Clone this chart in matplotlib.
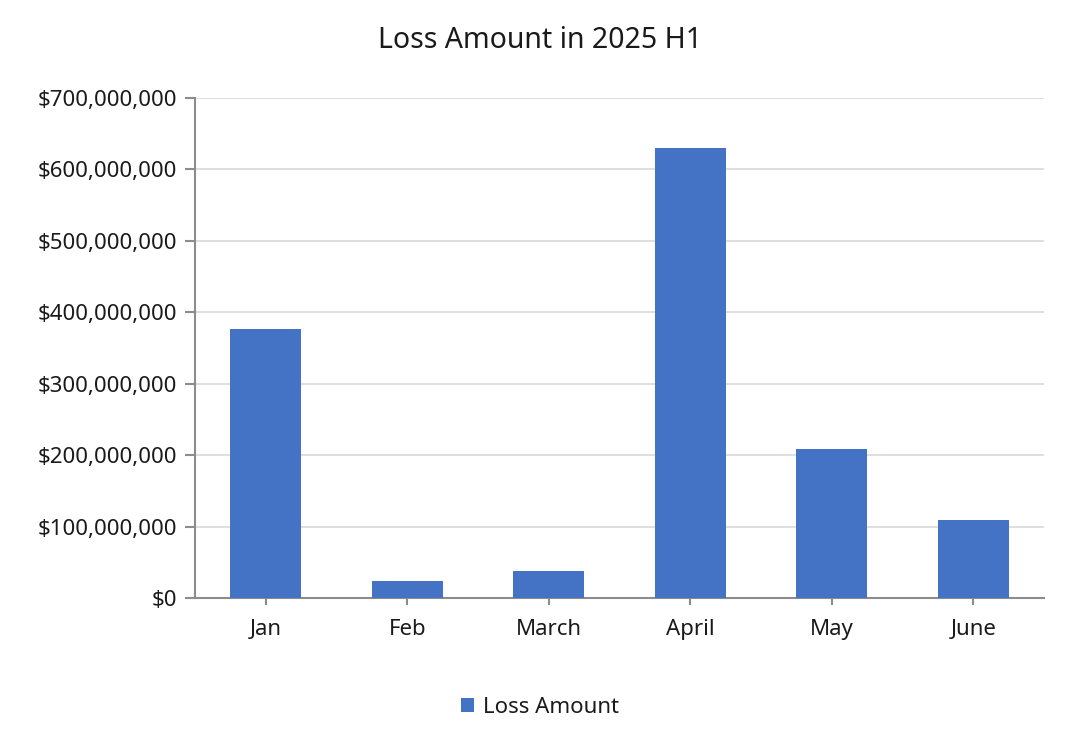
import matplotlib.pyplot as plt
from matplotlib.ticker import FuncFormatter, MultipleLocator

plt.rcParams['font.family'] = ['Noto Sans', 'DejaVu Sans']

# data
months = ['Jan', 'Feb', 'March', 'April', 'May', 'June']
loss_amount = [377e6, 24e6, 38e6, 630e6, 209e6, 109e6]

bar_color = '#4472C4'
text_color = '#1a1a1a'

fig = plt.figure(figsize=(10.8, 7.44), dpi=100)
ax = fig.add_axes([0.1806, 0.1962, 0.9667 - 0.1806, 0.8683 - 0.1962])

x = range(len(months))
ax.bar(x, loss_amount, width=0.5, color=bar_color, label='Loss Amount', zorder=3)

ax.set_xlim(-0.5, len(months) - 0.5)
ax.set_ylim(0, 700e6)
ax.yaxis.set_major_locator(MultipleLocator(100e6))
ax.yaxis.set_major_formatter(FuncFormatter(lambda v, p: f'${v:,.0f}'))
ax.set_xticks(list(x))
ax.set_xticklabels(months)

ax.grid(axis='y', color='#d9d9d9', linewidth=1.2, zorder=0)
for side in ['top', 'right']:
    ax.spines[side].set_visible(False)
for side in ['left', 'bottom']:
    ax.spines[side].set_color('#8c8c8c')
    ax.spines[side].set_linewidth(1.5)

ax.tick_params(axis='y', colors='#8c8c8c', labelcolor=text_color, labelsize=16,
               length=7, width=1.5, pad=6)
ax.tick_params(axis='x', colors='#8c8c8c', labelcolor=text_color, labelsize=16,
               length=5, width=1.5, pad=10)

fig.suptitle('Loss Amount in 2025 H1', fontsize=20.5, color=text_color, y=0.965)

fig.legend(loc='center', bbox_to_anchor=(0.5, 0.049), frameon=False, fontsize=16,
           handlelength=0.6, handleheight=0.6, handletextpad=0.4, labelcolor=text_color)

fig.savefig('out.png', dpi=100)
